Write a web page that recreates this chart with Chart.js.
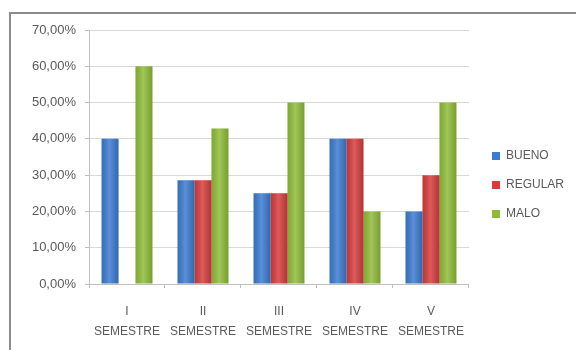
<!DOCTYPE html>
<html>
<head>
<meta charset="utf-8">
<script src="https://cdn.jsdelivr.net/npm/chart.js@4/dist/chart.umd.min.js"></script>
<style>
    body { margin: 0; background: #ffffff; }
    .frame {
        position: absolute; left: 9px; top: 12px;
        width: 600px; height: 360px;
        border: 2px solid #8c8c8c;
        box-sizing: border-box;
    }
    .wrap { position: absolute; left: 0; top: 0; width: 576px; height: 350px; }
</style>
</head>
<body>
<div class="frame"></div>
<div class="wrap"><canvas id="semChart" width="576" height="350"></canvas></div>
<script>
// Datos del gráfico
const categories = [['I', 'SEMESTRE'], ['II', 'SEMESTRE'], ['III', 'SEMESTRE'], ['IV', 'SEMESTRE'], ['V', 'SEMESTRE']];
const bueno = [40, 28.57, 25, 40, 20];
const regular = [0, 28.57, 25, 40, 30];
const malo = [60, 42.86, 50, 20, 50];
const seriesNames = ['BUENO', 'REGULAR', 'MALO'];
const seriesColors = ['#3b7bd0', '#d63c3c', '#8fbc38'];

// brillo tipo Excel sobre cada barra
const shinePlugin = {
    id: 'shine',
    afterDatasetsDraw(chart) {
        const ctx = chart.ctx;
        chart.data.datasets.forEach((ds, i) => {
            const meta = chart.getDatasetMeta(i);
            meta.data.forEach(bar => {
                const left = bar.x - bar.width / 2;
                const h = bar.base - bar.y;
                if (h <= 0) return;
                const g = ctx.createLinearGradient(left, 0, left + bar.width, 0);
                g.addColorStop(0, 'rgba(0,0,0,0.1)');
                g.addColorStop(0.45, 'rgba(255,255,255,0.16)');
                g.addColorStop(1, 'rgba(0,0,0,0.16)');
                ctx.save();
                ctx.fillStyle = g;
                ctx.fillRect(left, bar.y, bar.width, h);
                ctx.restore();
            });
        });
    }
};

// separar un poco la leyenda del área de trazado
const legendShift = {
    id: 'legendShift',
    afterLayout(chart) {
        const lg = chart.legend;
        if (!lg) return;
        lg.left += 6; lg.right += 6;
        lg.top += 2; lg.bottom += 2;
    }
};

const textColor = '#595959';
const fontFamily = '"Liberation Sans", Arial, sans-serif';

new Chart(document.getElementById('semChart'), {
    type: 'bar',
    data: {
        labels: categories,
        datasets: [bueno, regular, malo].map((d, i) => ({
            label: seriesNames[i],
            data: d,
            backgroundColor: seriesColors[i],
            borderWidth: 0,
            categoryPercentage: 0.67,
            barPercentage: 1
        }))
    },
    options: {
        responsive: false,
        animation: false,
        layout: { padding: { left: 18, top: 30, right: 8, bottom: 14 } },
        plugins: {
            legend: {
                position: 'right',
                labels: {
                    color: textColor,
                    font: { family: fontFamily, size: 12 },
                    boxWidth: 8,
                    boxHeight: 8,
                    padding: 17
                }
            },
            tooltip: { enabled: false }
        },
        scales: {
            y: {
                min: 0,
                max: 70,
                ticks: {
                    stepSize: 10,
                    color: textColor,
                    font: { family: fontFamily, size: 13 },
                    padding: 9,
                    callback: v => v.toFixed(2).replace('.', ',') + '%'
                },
                grid: { color: '#d9d9d9', drawTicks: true, tickLength: 4, tickColor: '#bfbfbf' },
                border: { color: '#bfbfbf' },
                afterFit: s => { s.width = 71; }
            },
            x: {
                ticks: {
                    color: textColor,
                    font: { family: fontFamily, size: 12, lineHeight: 1.65 },
                    padding: 14,
                    maxRotation: 0
                },
                grid: { drawOnChartArea: false, tickLength: 4, color: '#bfbfbf' },
                border: { color: '#bfbfbf' },
                afterFit: s => { s.height = 52; }
            }
        }
    },
    plugins: [shinePlugin, legendShift]
});
</script>
</body>
</html>
